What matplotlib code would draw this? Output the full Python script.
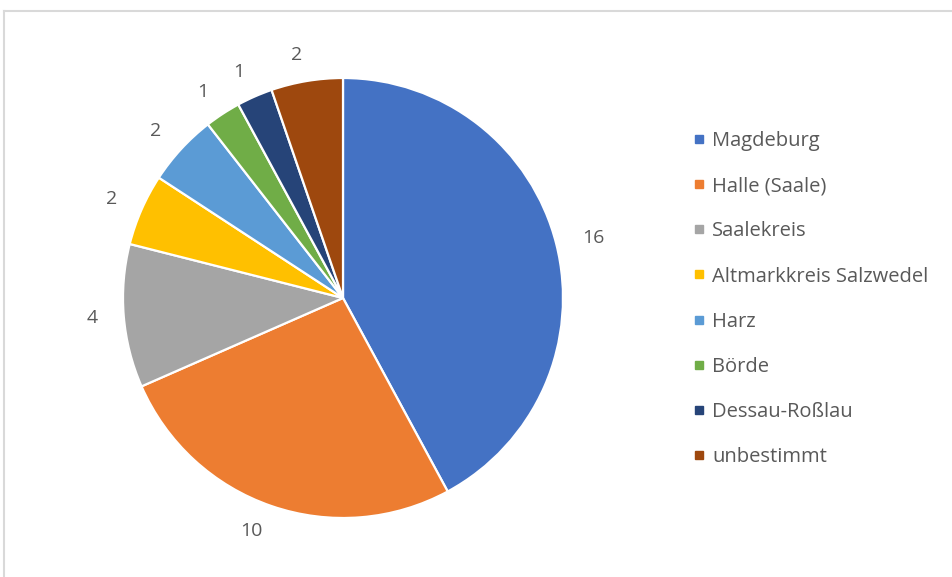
import matplotlib.pyplot as plt
from matplotlib.lines import Line2D

# Daten
kreise = ['Magdeburg', 'Halle (Saale)', 'Saalekreis', 'Altmarkkreis Salzwedel',
          'Harz', 'Börde', 'Dessau-Roßlau', 'unbestimmt']
anzahl = [16, 10, 4, 2, 2, 1, 1, 2]
farben = ['#4472C4', '#ED7D31', '#A5A5A5', '#FFC000',
          '#5B9BD5', '#70AD47', '#264478', '#9E480E']

plt.rcParams['font.family'] = ['Open Sans', 'DejaVu Sans']
textfarbe = '#595959'

W, H = 953, 577
fig = plt.figure(figsize=(W / 100, H / 100), dpi=100)

# Rahmen (nur oben und links sichtbar)
fig.add_artist(Line2D([4 / W, 1], [1 - 11 / H, 1 - 11 / H], color='#d9d9d9', lw=1.5))
fig.add_artist(Line2D([4 / W, 4 / W], [0, 1 - 11 / H], color='#d9d9d9', lw=1.5))

# Kreisdiagramm, Mittelpunkt (343, 298), Radius 220 px
r = 220 * 1.25
ax = fig.add_axes([(343 - r) / W, (H - 298 - r) / H, 2 * r / W, 2 * r / H])
wedges, texts = ax.pie(anzahl, colors=farben, startangle=90, counterclock=False,
                       labels=[str(a) for a in anzahl], labeldistance=1.12,
                       wedgeprops=dict(edgecolor='white', linewidth=1.6),
                       textprops=dict(color=textfarbe, fontsize=14))
ax.set_xlim(-1.25, 1.25)
ax.set_ylim(-1.25, 1.25)

# Legende
handles = [Line2D([], [], marker='s', linestyle='none', markersize=6,
                  markerfacecolor=c, markeredgecolor=c) for c in farben]
leg = fig.legend(handles, kreise, loc='upper left', bbox_to_anchor=(693 / W, 1 - 131 / H),
                 frameon=False, fontsize=14.5, labelcolor=textfarbe,
                 handlelength=0.6, handletextpad=0.35, labelspacing=1.25,
                 borderpad=0, borderaxespad=0)

fig.savefig('out.png', dpi=100)
